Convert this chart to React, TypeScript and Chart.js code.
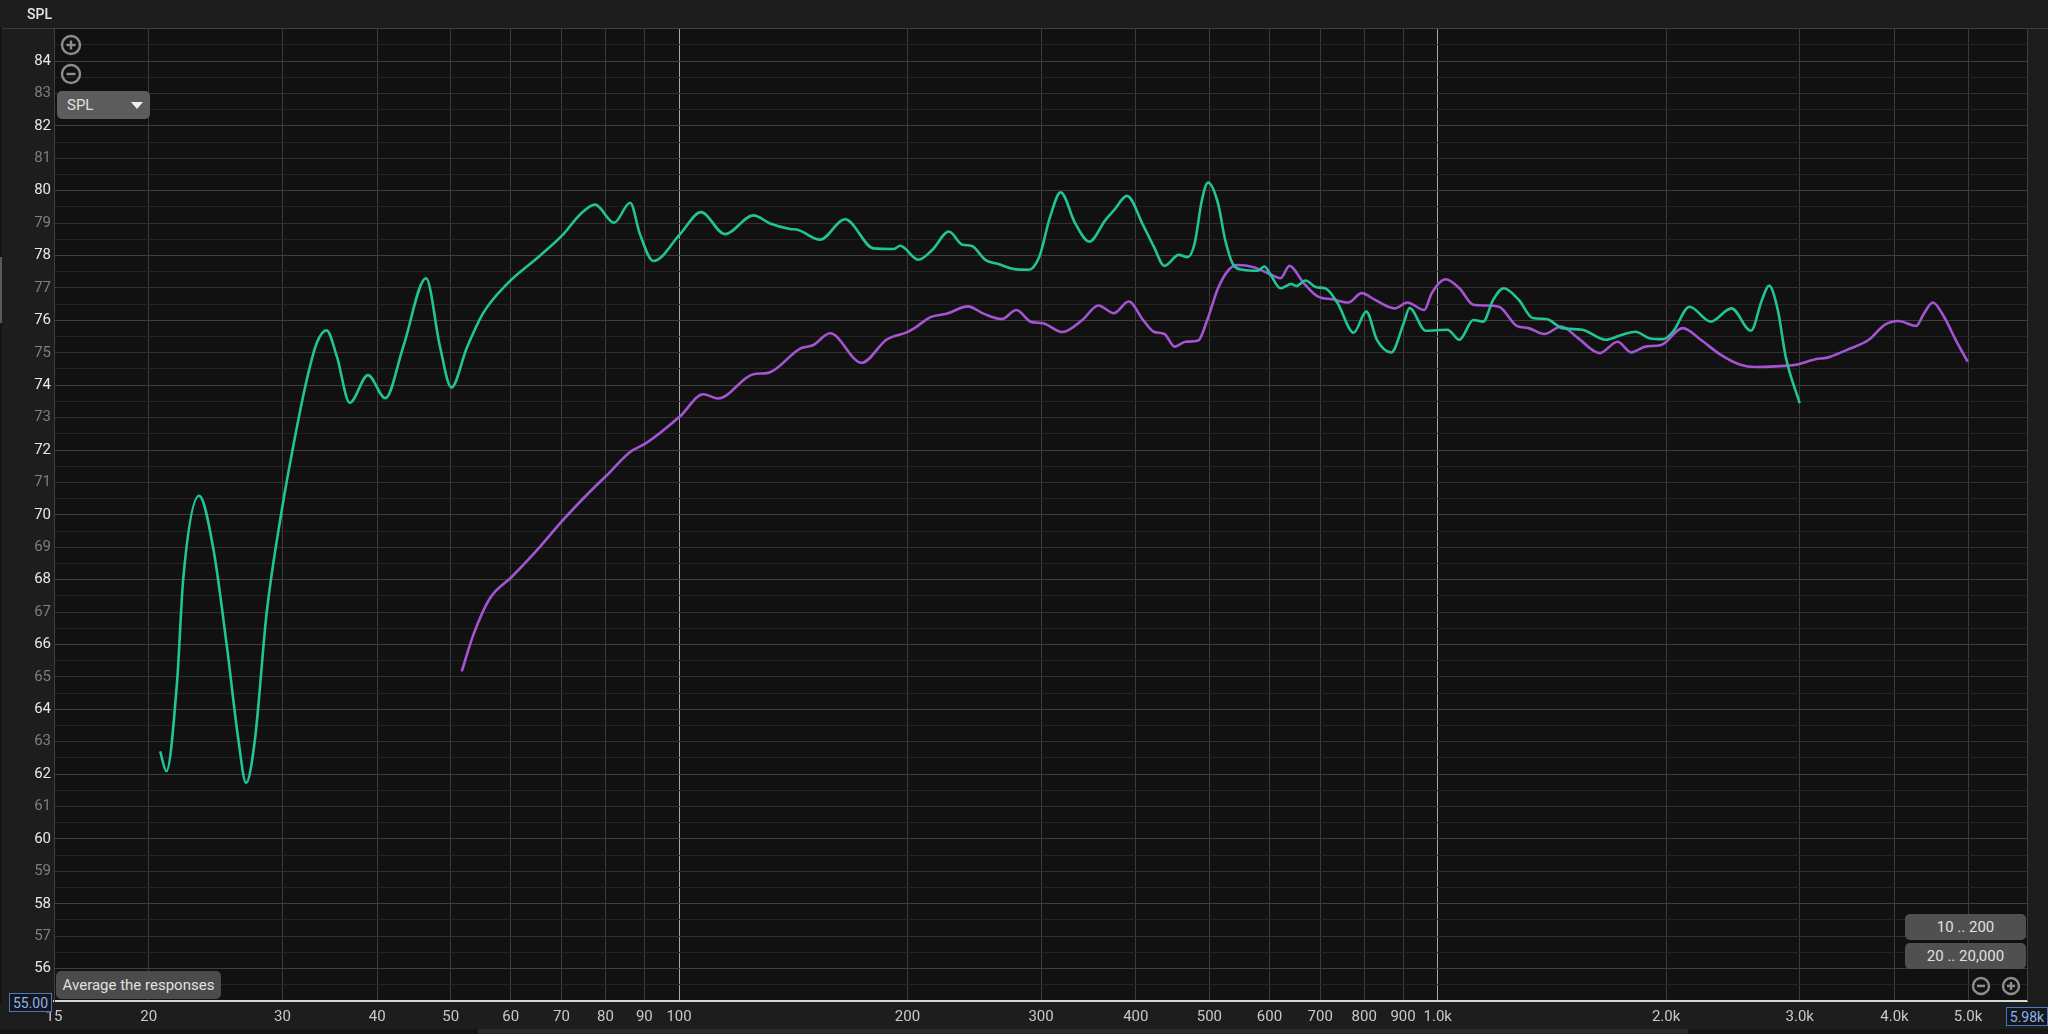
import React, { useEffect, useRef } from 'react';
import { Chart, registerables } from 'chart.js';

Chart.register(...registerables);

// ---- data ----
const greenFreq = [20.7, 21.1, 21.8, 22.2, 23.3, 24.3, 25.35, 26.25, 26.87, 27.6, 28.6, 29.9, 31.0, 32.3, 33.3, 34.3, 35.4, 36.8, 38.9, 41.0, 43.3, 46.4, 48.4, 50.1, 52.5, 55.2, 59.3, 65.6, 70.4, 74.0, 77.5, 82.1, 86.2, 88.8, 92.5, 100.3, 106.9, 114.9, 125.3, 131.8, 140, 143.6, 153.4, 165.5, 180.4, 191.7, 195.6, 206.8, 215.6, 226.8, 236.4, 242.8, 253.6, 263.5, 276.8, 289, 298.5, 308.4, 318.4, 332.7, 347.4, 364.8, 374.7, 389.4, 408.9, 422.3, 436.3, 455.7, 468.2, 478.2, 488.9, 498, 513.3, 524.6, 538.9, 553.8, 578.4, 591, 600.6, 620.7, 641.1, 651.6, 669.5, 691.6, 710.5, 738, 774.9, 805, 831.5, 868.4, 901.8, 918, 964, 1030, 1068, 1114, 1148, 1183, 1222, 1279, 1334, 1391, 1459, 1550, 1665, 1747, 1823, 1900, 1982, 2042, 2147, 2289, 2439, 2587, 2675, 2733, 2807, 2875, 2999];
const greenSpl = [62.7, 62.09, 64.9, 68.0, 70.59, 69.02, 65.94, 63.06, 61.73, 63.06, 66.97, 70.05, 72.11, 74.16, 75.3, 75.69, 74.88, 73.46, 74.31, 73.6, 75.19, 77.3, 75.19, 73.93, 75.15, 76.23, 77.12, 78.0, 78.66, 79.26, 79.57, 79.01, 79.63, 78.66, 77.83, 78.66, 79.34, 78.66, 79.24, 78.99, 78.82, 78.79, 78.49, 79.12, 78.22, 78.2, 78.3, 77.87, 78.17, 78.74, 78.33, 78.3, 77.86, 77.74, 77.58, 77.56, 77.97, 79.2, 79.95, 79.0, 78.43, 79.1, 79.41, 79.84, 78.94, 78.28, 77.68, 78.02, 77.95, 78.38, 79.72, 80.25, 79.61, 78.48, 77.68, 77.56, 77.53, 77.66, 77.45, 76.99, 77.12, 77.06, 77.23, 77.02, 76.99, 76.53, 75.62, 76.27, 75.4, 75.01, 75.91, 76.38, 75.68, 75.71, 75.4, 76.01, 75.96, 76.63, 76.99, 76.63, 76.07, 76.04, 75.76, 75.71, 75.4, 75.55, 75.65, 75.45, 75.42, 75.65, 76.42, 75.96, 76.37, 75.68, 76.63, 77.07, 76.32, 74.88, 73.45];

const purpleFreq = [51.7, 53.6, 56.3, 60.2, 65.6, 70.0, 75.6, 80.3, 86.2, 90.6, 100.3, 107.6, 112.6, 125.3, 131.1, 144.4, 150.3, 158.1, 174, 187.8, 199.5, 204.3, 214.5, 225.1, 240.3, 252.3, 266.4, 278.3, 290.6, 301.8, 320.2, 340, 356.9, 374.1, 391.5, 408.9, 422.3, 436.3, 449.9, 465.4, 483.4, 496.8, 513.3, 530.2, 544.8, 572.2, 603.9, 620.7, 637.6, 665.8, 695.4, 725.9, 762.3, 793.7, 826.8, 877.6, 911.7, 960, 982, 1024, 1068, 1114, 1155, 1204, 1271, 1317, 1382, 1455, 1531, 1635, 1726, 1800, 1878, 1970, 2104, 2222, 2359, 2505, 2628, 2790, 2963, 3146, 3262, 3464, 3700, 3882, 4049, 4272, 4376, 4493, 4646, 4816, 4993];
const purpleSpl = [65.17, 66.32, 67.42, 68.09, 69.02, 69.79, 70.62, 71.22, 71.94, 72.22, 73.04, 73.72, 73.59, 74.34, 74.38, 75.13, 75.24, 75.6, 74.69, 75.41, 75.63, 75.76, 76.1, 76.2, 76.43, 76.2, 76.04, 76.32, 75.96, 75.91, 75.64, 76.01, 76.46, 76.22, 76.58, 76.01, 75.65, 75.58, 75.19, 75.34, 75.38, 76.01, 76.99, 77.56, 77.71, 77.64, 77.4, 77.3, 77.68, 77.15, 76.73, 76.65, 76.55, 76.84, 76.63, 76.37, 76.55, 76.32, 76.84, 77.27, 76.99, 76.48, 76.46, 76.42, 75.83, 75.76, 75.58, 75.81, 75.45, 74.99, 75.34, 75.01, 75.19, 75.24, 75.76, 75.4, 74.94, 74.63, 74.56, 74.58, 74.63, 74.8, 74.85, 75.09, 75.4, 75.86, 75.98, 75.83, 76.22, 76.55, 76.12, 75.4, 74.73];

const xTickValues = [15, 20, 30, 40, 50, 60, 70, 80, 90, 100, 200, 300, 400, 500, 600, 700, 800, 900, 1000, 2000, 3000, 4000, 5000];
const xTickLabels = ['15', '20', '30', '40', '50', '60', '70', '80', '90', '100', '200', '300', '400', '500', '600', '700', '800', '900', '1.0k', '2.0k', '3.0k', '4.0k', '5.0k'];
const yTickValues = [56, 57, 58, 59, 60, 61, 62, 63, 64, 65, 66, 67, 68, 69, 70, 71, 72, 73, 74, 75, 76, 77, 78, 79, 80, 81, 82, 83, 84];
const xMin = 15;
const xMax = 5980;
const yMin = 55;
const yMax = 85.02;
const xMinLabel = '55.00';
const xMaxLabel = '5.98k';

const FONT = 'Roboto, "Liberation Sans", sans-serif';
const GREEN = '#21c495';
const PURPLE = '#a654d4';

const framePlugin = {
  id: 'frame',
  beforeDraw(chart: any) {
    const { ctx, chartArea: a } = chart;
    ctx.save();
    ctx.fillStyle = '#1d1d1d';
    ctx.fillRect(0, 0, chart.width, chart.height);
    ctx.fillStyle = '#111111';
    ctx.fillRect(a.left, a.top, a.right - a.left, a.bottom - a.top);
    ctx.restore();
  },
  beforeDatasetsDraw(chart: any) {
    const { ctx, chartArea: a } = chart;
    ctx.save();
    ctx.strokeStyle = '#3e3e3e';
    ctx.lineWidth = 1;
    ctx.beginPath();
    ctx.moveTo(0, a.top + 0.5);
    ctx.lineTo(chart.width, a.top + 0.5);
    ctx.moveTo(a.right + 0.5, a.top);
    ctx.lineTo(a.right + 0.5, a.bottom);
    ctx.stroke();
    ctx.restore();
  },
};

function Icon({ x, y, plus, r = 9 }: { x: number; y: number; plus: boolean; r?: number }) {
  const s = r * 2 + 4;
  return (
    <svg width={s} height={s} style={{ position: 'absolute', left: x - s / 2, top: y - s / 2 }}>
      <circle cx={s / 2} cy={s / 2} r={r} fill="none" stroke="#8e8e8e" strokeWidth={2.4} />
      <line x1={s / 2 - r * 0.5} y1={s / 2} x2={s / 2 + r * 0.5} y2={s / 2} stroke="#8e8e8e" strokeWidth={2.4} />
      {plus && <line x1={s / 2} y1={s / 2 - r * 0.5} x2={s / 2} y2={s / 2 + r * 0.5} stroke="#8e8e8e" strokeWidth={2.4} />}
    </svg>
  );
}

const btn: React.CSSProperties = {
  position: 'absolute',
  background: '#555555',
  color: '#e0e0e0',
  borderRadius: 5,
  fontSize: 15,
  display: 'flex',
  alignItems: 'center',
  boxSizing: 'border-box',
  whiteSpace: 'nowrap',
};

export default function App() {
  const ref = useRef<HTMLCanvasElement>(null);

  useEffect(() => {
    if (!ref.current) return;
    const chart = new Chart(ref.current, {
      type: 'line',
      data: {
        datasets: [
          {
            label: 'Green',
            data: greenFreq.map((f, i) => ({ x: f, y: greenSpl[i] })),
            borderColor: GREEN,
            borderWidth: 2.6,
            pointRadius: 0,
            cubicInterpolationMode: 'monotone',
          },
          {
            label: 'Purple',
            data: purpleFreq.map((f, i) => ({ x: f, y: purpleSpl[i] })),
            borderColor: PURPLE,
            borderWidth: 2.6,
            pointRadius: 0,
            cubicInterpolationMode: 'monotone',
          },
        ],
      },
      options: {
        animation: false,
        responsive: false,
        devicePixelRatio: 1,
        layout: { padding: { top: 28, right: 21, left: 0, bottom: 0 } },
        plugins: { legend: { display: false }, tooltip: { enabled: false } },
        scales: {
          x: {
            type: 'logarithmic',
            min: xMin,
            max: xMax,
            afterFit: (s: any) => {
              s.height = 33;
            },
            afterBuildTicks: (s: any) => {
              s.ticks = [...xTickValues, xMax].map((v) => ({ value: v }));
            },
            ticks: {
              autoSkip: false,
              maxRotation: 0,
              padding: 7,
              color: '#c8c8c8',
              font: { family: FONT, size: 15 },
              callback: (v: any) => {
                const i = xTickValues.indexOf(Number(v));
                return i >= 0 ? xTickLabels[i] : '';
              },
            },
            grid: {
              drawTicks: false,
              lineWidth: 1,
              color: (c: any) => {
                const v = c.tick && c.tick.value;
                if (v === 100 || v === 1000) return '#a6a6a6';
                if (v === xMin || v === xMax) return 'rgba(0,0,0,0)';
                return '#3c3c3c';
              },
            },
            border: { color: '#d6d6d6', width: 2 },
          },
          y: {
            type: 'linear',
            min: yMin,
            max: yMax,
            afterFit: (s: any) => {
              s.width = 54;
            },
            afterBuildTicks: (s: any) => {
              const t: any[] = [];
              [yMin, ...yTickValues].forEach((v) => {
                t.push({ value: v });
                t.push({ value: v + 0.5 });
              });
              s.ticks = t;
            },
            ticks: {
              autoSkip: false,
              padding: 3,
              font: { family: FONT, size: 15 },
              color: (c: any) => (c.tick && c.tick.value % 2 === 0 ? '#e8e8e8' : '#7e7e7e'),
              callback: (v: any) => (yTickValues.indexOf(Number(v)) >= 0 ? String(v) : ''),
            },
            grid: {
              drawTicks: false,
              lineWidth: 1,
              color: (c: any) => {
                const v = c.tick && c.tick.value;
                if (v === yMin) return 'rgba(0,0,0,0)';
                if (v % 1 !== 0) return '#232323';
                return v % 2 === 0 ? '#3f3f3f' : '#303030';
              },
            },
            border: { color: '#3e3e3e', width: 1 },
          },
        },
      },
      plugins: [framePlugin],
    } as any);
    return () => chart.destroy();
  }, []);

  return (
    <div
      style={{
        position: 'fixed',
        left: 0,
        top: 0,
        width: 2048,
        height: 1034,
        overflow: 'hidden',
        background: '#1d1d1d',
        fontFamily: FONT,
      }}
    >
      <canvas ref={ref} width={2048} height={1034} style={{ position: 'absolute', left: 0, top: 0 }} />
      {/* left edge strip */}
      <div style={{ position: 'absolute', left: 0, top: 28, width: 2, height: 975, background: '#141414' }} />
      <div style={{ position: 'absolute', left: 0, top: 257, width: 2, height: 66, background: '#5a5a5a' }} />
      {/* title */}
      <div style={{ position: 'absolute', left: 27, top: 6, color: '#e6e6e6', fontSize: 14, fontWeight: 500 }}>SPL</div>
      {/* zoom icons top-left */}
      <Icon x={71} y={45} plus={true} />
      <Icon x={71} y={74} plus={false} />
      {/* SPL dropdown */}
      <div style={{ ...btn, left: 57, top: 91, width: 93, height: 28, background: '#5c5c5c', paddingLeft: 10 }}>
        <span>SPL</span>
        <svg width={12} height={8} style={{ position: 'absolute', left: 74, top: 11 }}>
          <polygon points="0,0 12,0 6,7" fill="#f0f0f0" />
        </svg>
      </div>
      {/* Average button */}
      <div style={{ ...btn, left: 56, top: 971, width: 165, height: 28, background: '#4b4b4b', justifyContent: 'center' }}>
        Average the responses
      </div>
      {/* right range buttons */}
      <div style={{ ...btn, left: 1905, top: 914, width: 121, height: 26, background: '#505050', justifyContent: 'center' }}>10 .. 200</div>
      <div style={{ ...btn, left: 1905, top: 943, width: 121, height: 26, background: '#505050', justifyContent: 'center' }}>20 .. 20,000</div>
      <Icon x={1981} y={986} plus={false} r={8} />
      <Icon x={2011} y={986} plus={true} r={8} />
      {/* range readouts */}
      <div
        style={{
          position: 'absolute',
          left: 9,
          top: 993,
          width: 43,
          height: 19,
          border: '1.5px solid #4a78b8',
          color: '#8fb3e8',
          background: '#13161c',
          fontSize: 14,
          boxSizing: 'border-box',
          display: 'flex',
          alignItems: 'center',
          justifyContent: 'center',
        }}
      >
        {xMinLabel}
      </div>
      <div
        style={{
          position: 'absolute',
          left: 2006,
          top: 1007,
          width: 42,
          height: 19,
          border: '1.5px solid #4a78b8',
          color: '#8fb3e8',
          background: '#13161c',
          fontSize: 14,
          boxSizing: 'border-box',
          display: 'flex',
          alignItems: 'center',
          justifyContent: 'center',
        }}
      >
        {xMaxLabel}
      </div>
      {/* bottom scrollbar */}
      <div style={{ position: 'absolute', left: 0, top: 1029, width: 2048, height: 5, background: '#161616' }} />
      <div style={{ position: 'absolute', left: 478, top: 1029, width: 1210, height: 5, background: '#2a2a2a' }} />
    </div>
  );
}
